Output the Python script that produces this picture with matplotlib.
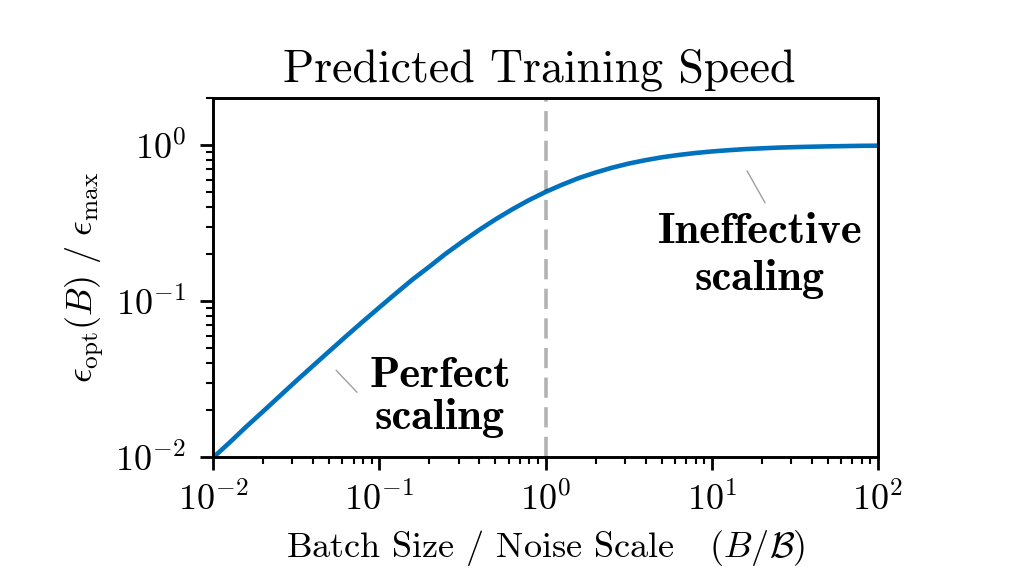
import matplotlib
matplotlib.use("Agg")
import matplotlib.pyplot as plt

plt.rcParams["font.family"] = "serif"
plt.rcParams["font.serif"] = ["cmr10"]
plt.rcParams["mathtext.fontset"] = "cm"
plt.rcParams["axes.formatter.use_mathtext"] = True
plt.rcParams["axes.unicode_minus"] = False

# values (log-log)
batch_ratio = [0.01, 0.0126, 0.0158, 0.02, 0.0251, 0.0316, 0.0398, 0.0501, 0.0631, 0.0794,
               0.1, 0.126, 0.158, 0.2, 0.251, 0.316, 0.398, 0.501, 0.631, 0.794,
               1.0, 1.26, 1.58, 2.0, 2.51, 3.16, 3.98, 5.01, 6.31, 7.94,
               10.0, 12.6, 15.8, 20.0, 25.1, 31.6, 39.8, 50.1, 63.1, 79.4, 100.0]
speed = [0.0099, 0.0124, 0.0156, 0.0196, 0.0245, 0.0307, 0.0383, 0.0477, 0.0594, 0.0736,
         0.0909, 0.112, 0.137, 0.166, 0.201, 0.240, 0.285, 0.334, 0.387, 0.443,
         0.500, 0.557, 0.613, 0.666, 0.715, 0.760, 0.799, 0.834, 0.863, 0.888,
         0.909, 0.926, 0.941, 0.952, 0.962, 0.969, 0.975, 0.980, 0.984, 0.988, 0.990]
noise_scale = 1.0

fig = plt.figure(figsize=(10.26, 5.78), dpi=100)
ax = fig.add_axes([0.2076, 0.2093, 0.6482, 0.6211])

ax.plot(batch_ratio, speed, color="#0072bd", lw=3.3, solid_capstyle="butt")
ax.axvline(noise_scale, color="black", alpha=0.3, lw=2.6, dashes=(5.6, 2.6))

ax.set_xscale("log")
ax.set_yscale("log")
ax.set_xlim(1e-2, 1e2)
ax.set_ylim(1e-2, 2.0)

ax.tick_params(which="major", length=9.3, width=2.0, labelsize=26)
ax.tick_params(which="minor", length=5.3, width=1.5)
ax.tick_params(axis="x", which="major", pad=8)
ax.tick_params(axis="y", which="major", pad=10)
for s in ax.spines.values():
    s.set_linewidth(2.1)

ax.set_title("Predicted Training Speed", fontsize=33, pad=12, x=0.49)
ax.set_xlabel(r"Batch Size / Noise Scale   $(B/\mathcal{B})$", fontsize=26, labelpad=8)
ax.set_ylabel(r"$\epsilon_{\rm opt}(B)\ /\ \epsilon_{\rm max}$", fontsize=26, labelpad=7)

# pointer lines and labels
ax.annotate("", xy=(0.055, 0.036), xytext=(0.0735, 0.026),
            arrowprops=dict(arrowstyle="-", color="#a0a0a0", lw=1.0, shrinkA=0, shrinkB=0))
ax.text(0.232, 0.0241, "Perfect\nscaling", fontsize=32, fontfamily="cmb10",
        ha="center", va="center", linespacing=1.05)
ax.annotate("", xy=(16.3, 0.683), xytext=(20.9, 0.426),
            arrowprops=dict(arrowstyle="-", color="#a0a0a0", lw=1.0, shrinkA=0, shrinkB=0))
ax.text(19.5, 0.195, "Ineffective\nscaling", fontsize=32, fontfamily="cmb10",
        ha="center", va="center", linespacing=1.22)

fig.savefig("out.png", dpi=100)
